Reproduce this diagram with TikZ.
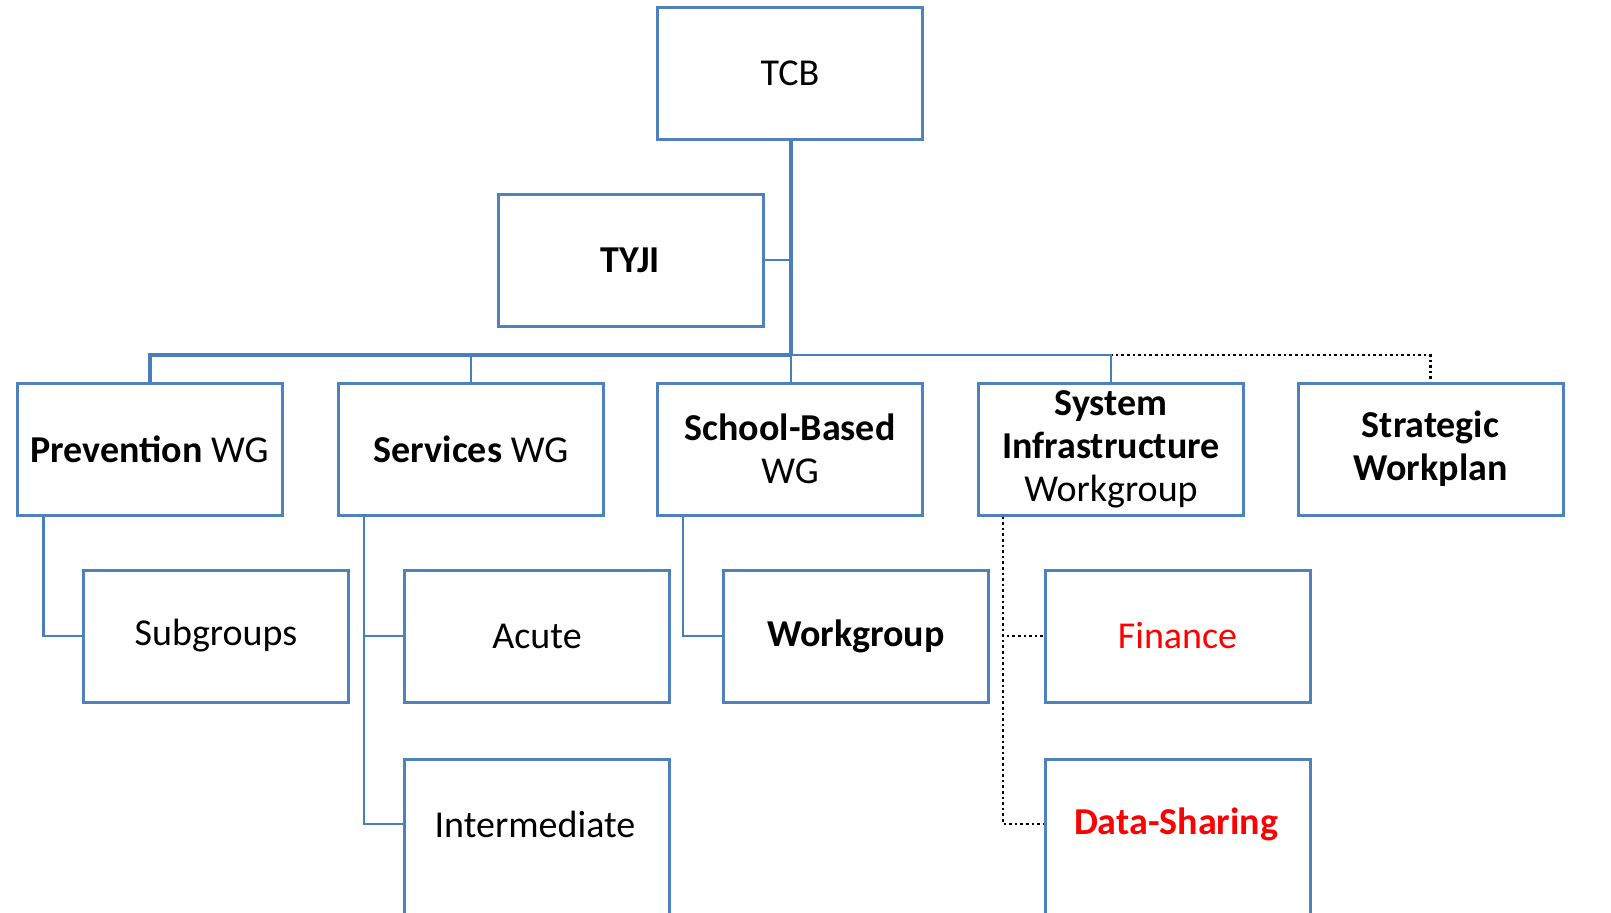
\documentclass[tikz,border=0pt]{standalone}
\usepackage{fontspec}
\setmainfont{Carlito}
\definecolor{boxblue}{HTML}{4F81BD}
\definecolor{linkblue}{HTML}{4A7EBB}
\definecolor{redtext}{HTML}{FF0000}
\begin{document}
\begin{tikzpicture}[x=0.5pt,y=-0.5pt,
  box/.style={draw=boxblue, line width=1.5pt, minimum width=132.5pt, minimum height=66pt,
    inner sep=0pt, align=center, font=\fontsize{19}{21.4}\selectfont},
  txt/.style={inner sep=0pt, align=center, font=\fontsize{19}{21.4}\selectfont},
  conn/.style={draw=linkblue, line width=1.3pt},
  trunk/.style={draw=linkblue, line width=2pt},
  dotconn/.style={draw=black, line width=1.3pt, dash pattern=on 1.3pt off 1.5pt}
]
\useasboundingbox (0,0) rectangle (1611,912);
\clip (0,0) rectangle (1611,912);
\fill[white] (0,0) rectangle (1611,912);

% top
\node[box] (tcb) at (790,73) {TCB};
\node[box] (tyji) at (630.5,260) {\textbf{TYJI}};

% second row
\node[box] (prev) at (149.5,449) {\textbf{Prevention} WG};
\node[box] (serv) at (471,449) {\textbf{Services} WG};
\node[box] (school) at (790,449) {\textbf{School-Based}\\WG};
\node[box] (sys) at (1111,449) {\textbf{System}\\\textbf{Infrastructure}\\Workgroup};
\node[box] (strat) at (1430.5,449) {\textbf{Strategic}\\\textbf{Workplan}};

% third row
\node[box] (sub) at (216,636) {Subgroups};
\node[box] (acute) at (537,636) {Acute};
\node[box] (wg) at (856,636) {\textbf{Workgroup}};
\node[box] (fin) at (1177.5,636) {\textcolor{redtext}{Finance}};

% fourth row (cut off at the bottom)
\node[box, anchor=north, minimum height=110pt] (interm) at (537,758) {};
\node[txt] (intermtxt) at (535,824) {Intermediate};
\node[box, anchor=north, minimum height=110pt] (data) at (1177.5,758) {};
\node[txt] (datatxt) at (1176,824) {\textcolor{redtext}{\textbf{Data-Sharing}}};

% bus
\coordinate (bus) at (791,355);

% dotted link to Strategic Workplan (under the blue)
\draw[dotconn] (bus) -| (strat.north);

\draw[trunk] (tcb.south -| bus) -- (bus);
\draw[conn] (tyji.east) -- (tyji.east -| bus);
\draw[trunk] (prev.north) |- (bus);
\draw[conn] (serv.north) |- (bus);
\draw[conn] (school.north -| bus) -- (bus);
\draw[conn] (sys.north) |- (bus);

% children
\draw[conn] ([xshift=14pt]prev.south west) |- (sub.west);
\draw[conn] ([xshift=13.5pt]serv.south west) |- (acute.west);
\draw[conn] ([xshift=13.5pt]serv.south west) |- (interm.west |- intermtxt);
\draw[conn] ([xshift=13.5pt]school.south west) |- (wg.west);
\draw[dotconn] ([xshift=13pt]sys.south west) |- (fin.west);
\draw[dotconn] ([xshift=13pt]sys.south west) |- (data.west |- datatxt);
\end{tikzpicture}
\end{document}
